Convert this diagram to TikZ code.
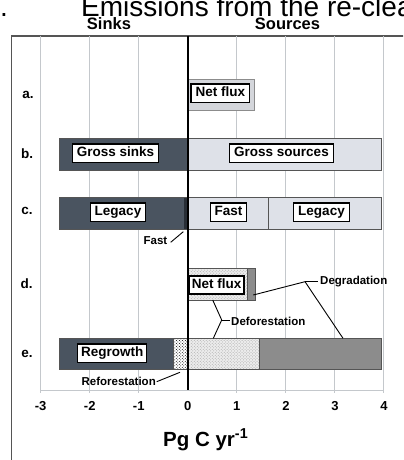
\documentclass[tikz,border=0pt]{standalone}
\usepackage{fontspec}
\setmainfont{Liberation Sans}
\usetikzlibrary{patterns}
\definecolor{darkbar}{RGB}{74,84,96}
\definecolor{darkfast}{RGB}{40,46,54}
\definecolor{lightbar}{RGB}{222,225,232}
\definecolor{netgray}{RGB}{212,214,219}
\definecolor{degr}{RGB}{140,140,140}
\definecolor{gridc}{RGB}{196,200,204}
\definecolor{edgec}{RGB}{85,85,85}
\definecolor{defor}{RGB}{236,236,236}
\newcommand\myfs[1]{\fontsize{#1bp}{#1bp}\selectfont}
\tikzset{
  bar/.style={draw=edgec, line width=0.8bp},
  tbox/.style={draw=black, line width=1.2bp, fill=white, font=\myfs{13.5}\bfseries,
    inner xsep=4.5bp, inner ysep=0bp, minimum height=18.5bp, text height=9.8bp, text depth=2.8bp},
  rowlab/.style={font=\myfs{13.5}\bfseries, inner sep=0bp},
  small/.style={font=\myfs{11.5}\bfseries, inner sep=0bp},
  tick/.style={font=\myfs{13}\bfseries, inner sep=0bp, anchor=base},
  gridl/.style={draw=gridc, line width=1bp},
  leader/.style={draw=black, line width=0.9bp},
  head/.style={font=\myfs{16.5}\bfseries, inner sep=0bp, anchor=base},
}
\begin{document}
\begin{tikzpicture}[x=1bp,y=-1bp]
\clip (0,0) rectangle (403,460);
\fill[white] (0,0) rectangle (403,460);
% title (cropped)
\node[anchor=base west, inner sep=0bp, font=\myfs{28}] (dot) at (0,17) {.};
\node[anchor=base west, inner sep=0bp, font=\myfs{28}] (title) at (81,17) {Emissions from the re-clear};
\node[head] (sinks) at (109,29.3) {Sinks};
\node[head] (sources) at (287.5,29.3) {Sources};
% frame
\draw[draw=edgec, line width=1.2bp] (11.7,460) -- (11.7,36) -- (410,36);
% grid
\foreach \v in {-3,-2,-1,1,2,3,4}{
  \draw[gridl] ({187.8+49.04*\v},36) -- ({187.8+49.04*\v},393);
}
\draw[gridl] (40.7,390) -- (384,390);
% row a
\filldraw[fill=netgray, draw=degr, line width=0.8bp] (188,79) rectangle (254,110);
% row b
\filldraw[bar, fill=darkbar] (59.3,138) rectangle (187.8,170);
\filldraw[bar, fill=lightbar] (187.8,138) rectangle (381.7,170);
% row c
\filldraw[bar, fill=darkbar] (59.3,197.3) rectangle (187.8,229.3);
\fill[darkfast] (184.3,197.7) rectangle (187.8,228.9);
\filldraw[bar, fill=lightbar] (187.8,197.3) rectangle (268.3,229.3);
\filldraw[bar, fill=lightbar] (268.3,197.3) rectangle (381.7,229.3);
% row d
\fill[defor] (188.3,268.3) rectangle (247,300);
\fill[pattern=crosshatch dots, pattern color=gray!70] (188.3,268.3) rectangle (247,300);
\fill[degr] (247,268.3) rectangle (255,300);
\draw[bar] (188.3,268.3) rectangle (255,300);
\draw[edgec, line width=0.6bp] (247,268.3) -- (247,300);
% row e
\filldraw[bar, fill=darkbar] (59.3,338.3) rectangle (173.3,369.3);
\fill[white] (173.3,338.3) rectangle (187.8,369.3);
\fill[pattern=crosshatch dots, pattern color=black] (173.3,338.3) rectangle (187.8,369.3);
\fill[defor] (187.8,338.3) rectangle (259.3,369.3);
\fill[pattern=crosshatch dots, pattern color=gray!70] (187.8,338.3) rectangle (259.3,369.3);
\filldraw[bar, fill=degr] (259.3,338.3) rectangle (381.7,369.3);
\draw[bar] (173.3,338.3) rectangle (259.3,369.3);
% zero line
\draw[black, line width=2bp] (187.8,36) -- (187.8,390);
% text boxes
\node[tbox] (nfa) at (220.3,93.3) {Net flux};
\node[tbox] (gsink) at (115.5,153.3) {Gross sinks};
\node[tbox] (gsrc) at (281.5,153.3) {Gross sources};
\node[tbox] (legl) at (118,212.3) {Legacy};
\node[tbox] (fastb) at (228.5,212.3) {Fast};
\node[tbox] (legr) at (321.5,212.3) {Legacy};
\node[tbox, line width=2bp, inner xsep=3bp] (nfd) at (216.7,285) {Net flux};
\node[tbox, inner xsep=3.4bp] (regr) at (112.2,353.3) {Regrowth};
% row labels
\node[rowlab] (la) at (28,95) {a.};
\node[rowlab] (lb) at (27,153.3) {b.};
\node[rowlab] (lc) at (27,211) {c.};
\node[rowlab] (ld) at (26.5,283.5) {d.};
\node[rowlab] (le) at (27,354) {e.};
% annotations
\node[small, anchor=east] (fastl) at (167.5,241) {Fast};
\coordinate (f1) at (170.7,242.3);
\coordinate (f2) at (183.3,231.7);
\draw[leader] (f1) -- (f2);
\node[small, anchor=west] (defl) at (231,321) {Deforestation};
\coordinate (dj) at (221.7,320);
\coordinate (dh) at (230,320);
\coordinate (dtop) at (212.7,300);
\coordinate (dbot) at (213.3,338.3);
\draw[leader] (dtop) -- (dj) -- (dbot);
\draw[leader] (dj) -- (dh);
\node[small, anchor=west] (degl) at (320,281.5) {Degradation};
\coordinate (gj) at (305,281.7);
\coordinate (gh) at (318,281.7);
\coordinate (gtop) at (253.3,295);
\coordinate (gbot) at (343,338.3);
\draw[leader] (gtop) -- (gj) -- (gbot);
\draw[leader] (gj) -- (gh);
\node[small, anchor=east] (refl) at (156,381.7) {Reforestation};
\coordinate (r1) at (156.7,381.7);
\coordinate (r2) at (180,372.3);
\draw[leader] (r1) -- (r2);
% tick labels
\foreach \v/\t in {-3/-3,-2/-2,-1/-1,0/0,1/1,2/2,3/3,4/4}{
  \node[tick] (t\v) at ({187.8+49.04*\v},410) {\t};
}
\node[anchor=base west, inner sep=0bp, font=\myfs{20.5}\bfseries] (unit) at (163,446) {Pg C yr\textsuperscript{-1}};
\end{tikzpicture}
\end{document}
